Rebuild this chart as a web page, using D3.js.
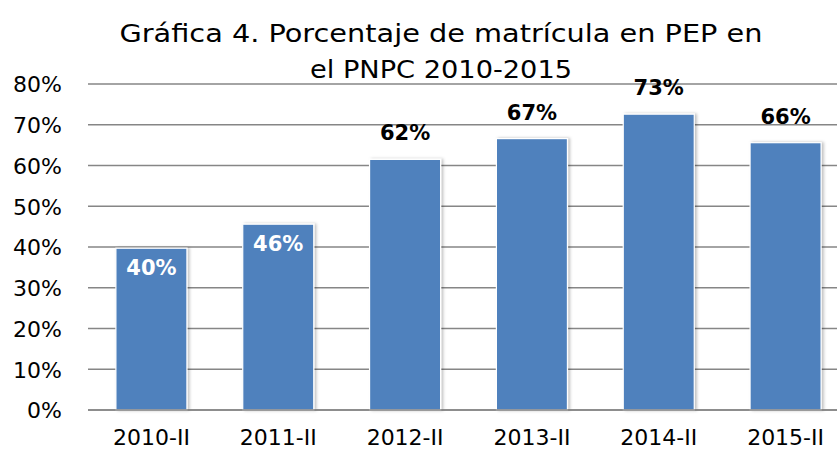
<!DOCTYPE html>
<html><head><meta charset="utf-8">
<script src="https://cdn.jsdelivr.net/npm/d3@7"></script>
<style>body{margin:0;background:#fff}svg{display:block}</style>
</head><body>
<script>
const categories = ["2010-II","2011-II","2012-II","2013-II","2014-II","2015-II"];
const values = [0.397,0.456,0.615,0.666,0.726,0.656];
const yTicks = [0,0.1,0.2,0.3,0.4,0.5,0.6,0.7,0.8];
const titleLines = ["Gráfica 4. Porcentaje de matrícula en PEP en","el PNPC 2010-2015"];
const insideLabels = [true,true,false,false,false,false];

const W=837,H=455;
const font="'DejaVu Sans', sans-serif";
const svg=d3.select("body").append("svg").attr("width",W).attr("height",H);
const defs=svg.append("defs");
const f=defs.append("filter").attr("id","sh").attr("x","-20%").attr("y","-10%").attr("width","140%").attr("height","120%");
f.append("feDropShadow").attr("dx",2).attr("dy",0).attr("stdDeviation",1.5).attr("flood-color","#000").attr("flood-opacity",0.25);

const x=d3.scaleBand().domain(categories).range([88,849]).paddingInner(0.44).paddingOuter(0.22);
const y=d3.scaleLinear().domain([0,0.8]).range([410,84]);

svg.append("g").selectAll("line").data(yTicks).join("line")
 .attr("x1",88).attr("x2",W).attr("y1",d=>y(d)).attr("y2",d=>y(d))
 .attr("stroke","#868686").attr("stroke-width",1.5);

const yAxis=svg.append("g").attr("transform","translate(62,0)")
 .call(d3.axisLeft(y).tickValues(yTicks).tickFormat(d3.format(".0%")).tickSize(0).tickPadding(0));
yAxis.select(".domain").remove();
yAxis.selectAll("text").attr("font-family",font).attr("font-size",22).attr("fill","#000").attr("dy","0.36em");

svg.append("g").selectAll("rect").data(values).join("rect")
 .attr("x",(d,i)=>x(categories[i])).attr("width",x.bandwidth())
 .attr("y",d=>y(d)).attr("height",d=>y(0)-y(d))
 .attr("fill","#4F81BD").attr("stroke","#fff").attr("stroke-width",1.2)
 .attr("filter","url(#sh)");

svg.append("line").attr("x1",88).attr("x2",W).attr("y1",y(0)).attr("y2",y(0)).attr("stroke","#868686").attr("stroke-width",1.5);

const xAxis=svg.append("g").attr("transform","translate(0,"+y(0)+")")
 .call(d3.axisBottom(x).tickSize(0).tickPadding(0));
xAxis.select(".domain").remove();
xAxis.selectAll("text").attr("font-family",font).attr("font-size",22).attr("fill","#000").attr("dy","35");

svg.append("g").selectAll("text").data(values).join("text")
 .attr("x",(d,i)=>x(categories[i])+x.bandwidth()/2)
 .attr("y",(d,i)=>insideLabels[i]? y(d)+27 : y(d)-19)
 .attr("text-anchor","middle").attr("font-family",font).attr("font-weight","bold").attr("font-size",21)
 .attr("fill",(d,i)=>insideLabels[i]?"#fff":"#000")
 .text(d=>d3.format(".0%")(d));

const titleWidths=[643,262];
svg.append("g").selectAll("text").data(titleLines).join("text")
 .attr("x",441).attr("y",(d,i)=>42+i*36).attr("text-anchor","middle")
 .attr("font-family",font).attr("font-size",24).attr("fill","#000")
 .attr("textLength",(d,i)=>titleWidths[i]).attr("lengthAdjust","spacingAndGlyphs")
 .text(d=>d);
</script>
</body></html>
